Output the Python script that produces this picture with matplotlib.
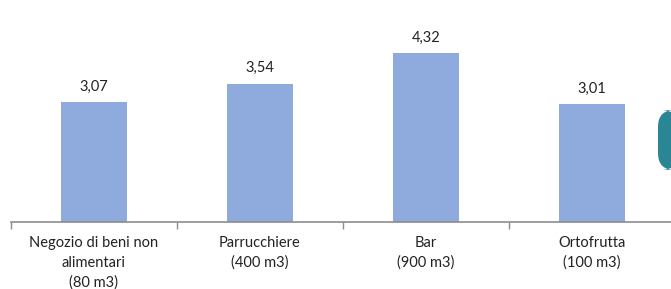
import matplotlib
matplotlib.use("Agg")
import matplotlib.pyplot as plt
from matplotlib.patches import FancyBboxPatch

categories = ["Negozio di beni non\nalimentari\n(80 m3)", "Parrucchiere\n(400 m3)", "Bar\n(900 m3)", "Ortofrutta\n(100 m3)"]
values = [3.07, 3.54, 4.32, 3.01]
value_labels = ["3,07", "3,54", "4,32", "3,01"]

plt.rcParams['font.family'] = ['Lato', 'DejaVu Sans']

W, H = 671, 289
fig = plt.figure(figsize=(W/100, H/100), dpi=100)
left = 11 / W
bottom = (H - 222) / H
width = 664 / W
height = 195.6 / H
ax = fig.add_axes([left, bottom, width, height])

x = list(range(len(values)))
ax.bar(x, values, width=0.4, color="#8FAADC", zorder=2)
for xi, v, lab in zip(x, values, value_labels):
    ax.annotate(lab, (xi, v), xytext=(0, 6), textcoords="offset points",
                ha="center", va="bottom", fontsize=10.5, color="#222222")

ax.set_xlim(-0.5, 3.5)
ax.set_ylim(0, 5)
for s in ["top", "right", "left"]:
    ax.spines[s].set_visible(False)
ax.spines["bottom"].set_color("#8c8c8c")
ax.spines["bottom"].set_linewidth(1.2)
ax.set_yticks([])
ax.set_xticks([-0.5, 0.5, 1.5, 2.5, 3.5])
ax.set_xticklabels([])
ax.tick_params(axis="x", length=5, color="#8c8c8c", width=1)
for xi, c in zip(x, categories):
    ax.text(xi, -0.36, c, ha="center", va="top", fontsize=10.5,
            color="#222222", linespacing=1.5, transform=ax.transData, clip_on=False)

# teal rounded element at right edge
patch = FancyBboxPatch((658 / W, (H - 170) / H), 20 / W, 60 / H,
                       boxstyle="round,pad=0,rounding_size=0.025",
                       transform=fig.transFigure, facecolor="#2A8595",
                       edgecolor="none", mutation_aspect=W / H)
fig.patches.append(patch)

fig.savefig("out.png", dpi=100)
